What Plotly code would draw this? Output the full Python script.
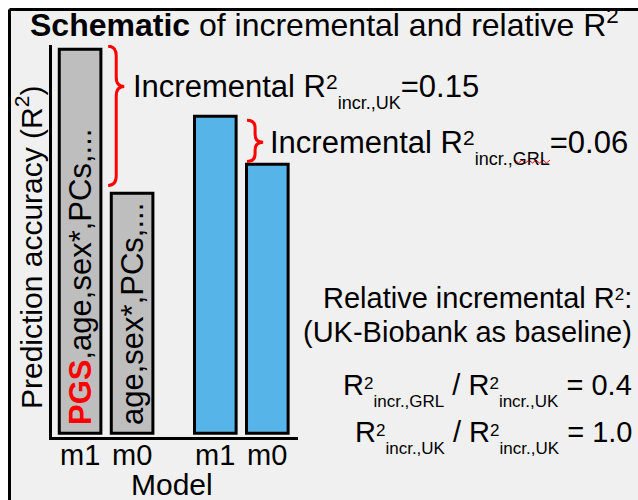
import plotly.graph_objects as go

# ---- data ----
models = ["m1", "m0", "m1", "m0"]
groups = ["UK", "UK", "GRL", "GRL"]
r2_values = [0.40, 0.25, 0.33, 0.28]
bar_labels = ["\u2006<span style='color:#ff0000'><b>PGS</b></span>,age,sex*,PCs,...",
              "\u2006age,sex*,PCs,...", "", ""]
incr_uk = 0.15
incr_grl = 0.06
rel_grl = 0.4
rel_uk = 1.0

# ---- layout helpers (pixel geometry of the plot area) ----
W, H = 638, 500
L, R_, T, B = 52, 298, 45, 437
xpos = [0, 1, 2.6, 3.6]
xr = [-0.54, 4.19]
yr = [-0.004, 0.4043]

def px(x):
    return (x - L) / (R_ - L)

def py(y):
    return (B - y) / (B - T)

FONT = "Liberation Sans, Arial, sans-serif"
colors = ["#bebebe", "#bebebe", "#56b4e9", "#56b4e9"]

def sp(t, fs, shift):
    return f"<span style='font-size:{fs}px;baseline-shift:{shift}px'>{t}</span>"

fig = go.Figure()
fig.add_trace(go.Bar(
    x=xpos, y=r2_values, width=0.8,
    marker=dict(color=colors, line=dict(color="black", width=3)),
    text=bar_labels, textposition="inside", textangle=-90,
    insidetextanchor="start",
    textfont=dict(family=FONT, size=31, color="black"),
    hoverinfo="skip", showlegend=False,
))

def brace(x0, x1, ytop, ybot, ytip, r):
    xm = (x0 + x1) / 2
    return (f"M {x0},{ytop} Q {xm},{ytop} {xm},{ytop - r} "
            f"L {xm},{ytip + r} Q {xm},{ytip} {x1},{ytip} "
            f"Q {xm},{ytip} {xm},{ytip - r} "
            f"L {xm},{ybot + r} Q {xm},{ybot} {x0},{ybot}")

shapes = []
shapes.append(dict(type="path", xref="x", yref="y",
                   path=brace(0.54, 0.85, r2_values[0] + 0.003, r2_values[1] + 0.008, 0.361, 0.010),
                   line=dict(color="#ff0000", width=3)))
shapes.append(dict(type="path", xref="x", yref="y",
                   path=brace(3.21, 3.52, r2_values[2] - 0.004, r2_values[3] + 0.003, 0.303, 0.008),
                   line=dict(color="#ff0000", width=3)))

# background frame
shapes.append(dict(type="rect", xref="paper", yref="paper",
                   x0=px(0), x1=px(8), y0=py(0), y1=py(W), fillcolor="white", line=dict(width=0)))
shapes.append(dict(type="rect", xref="paper", yref="paper",
                   x0=px(0), x1=px(W), y0=py(0), y1=py(8), fillcolor="white", line=dict(width=0)))
shapes.append(dict(type="line", xref="paper", yref="paper",
                   x0=px(9.5), x1=px(W + 5), y0=py(9.5), y1=py(9.5), line=dict(color="black", width=3)))
shapes.append(dict(type="line", xref="paper", yref="paper",
                   x0=px(9.5), x1=px(9.5), y0=py(9.5), y1=py(H + 5), line=dict(color="black", width=3)))

# red squiggle under "GRL"
sq = "M " + " L ".join(f"{px(515 + i * 3.5)},{py(161 + (2 if i % 2 else -1))}" for i in range(11))
shapes.append(dict(type="path", xref="paper", yref="paper", path=sq,
                   line=dict(color="#ff0000", width=1)))

ann = []
def A(text, x, y, xa="center", ya="middle", size=30, angle=0, xref="paper"):
    ann.append(dict(text=text, x=(px(x) if xref == "paper" else x), y=py(y),
                    xref=xref, yref="paper",
                    xanchor=xa, yanchor=ya, showarrow=False, textangle=angle,
                    font=dict(family=FONT, size=size, color="black")))

A("<b>Schematic</b> of incremental and relative R<sup>2</sup>", 324, 23, size=32)
A("Incremental R" + sp("2", 21, 8) + sp("incr.,UK", 18, -12) + f"={incr_uk:.2f}",
  131, 91, xa="left", size=31)
A("Incremental R" + sp("2", 21, 8) + sp("incr.,GRL", 18, -12) + f"={incr_grl:.2f}",
  268, 147, xa="left", size=31)
A("Relative incremental R" + sp("2", 17, 8) + ":", 634, 298, xa="right", size=29)
A("(UK-Biobank as baseline)", 634, 332, xa="right", size=29)
A("R" + sp("2", 17, 6) + sp("incr.,GRL", 17, -12) + " / R" + sp("2", 17, 6)
  + sp("incr.,UK", 17, -12) + f" = {rel_grl:.1f}", 634, 390, xa="right", size=29)
A("R" + sp("2", 17, 6) + sp("incr.,UK", 17, -12) + " / R" + sp("2", 17, 6)
  + sp("incr.,UK", 17, -12) + f" = {rel_uk:.1f}", 634, 437, xa="right", size=29)
A("Prediction accuracy (R<sup>2</sup>)", 29, 248, angle=-90, size=30)
for xp, lab in zip(xpos, models):
    A(lab, xp, 455, xref="x", size=29)
A("Model", 172, 484, size=30)

fig.update_layout(
    width=W, height=H,
    margin=dict(l=L, r=W - R_, t=T, b=H - B, pad=0),
    paper_bgcolor="#f0f0f0", plot_bgcolor="rgba(0,0,0,0)",
    shapes=shapes, annotations=ann,
    font=dict(family=FONT, size=30, color="black"),
    xaxis=dict(range=xr, showline=True, linecolor="black", linewidth=3,
               showgrid=False, zeroline=False, ticks="",
               tickvals=xpos, showticklabels=False, fixedrange=True),
    yaxis=dict(range=yr, showline=True, linecolor="black", linewidth=3,
               showgrid=False, zeroline=False, ticks="", showticklabels=False, fixedrange=True),
)

fig.write_html("out.html")
